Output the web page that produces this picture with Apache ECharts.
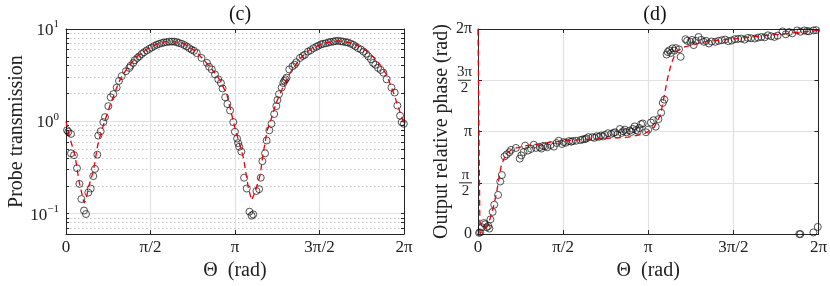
<!DOCTYPE html>
<html><head><meta charset="utf-8">
<script src="https://cdn.jsdelivr.net/npm/echarts@6/dist/echarts.min.js"></script>
<style>html,body{margin:0;padding:0;background:#fff}#c{width:830px;height:286px}</style>
</head><body><div id="c"></div>
<script>
const PI = Math.PI;
// ---- tick positions / labels ----
const thetaTicks = [0, PI/2, PI, 3*PI/2, 2*PI];
const thetaTickLabels = ['0', 'π/2', 'π', '3π/2', '2π'];
const transMajorTicks = [0.1, 1, 10];
const transMajorLabels = ['{b|10}{s|−1}', '{b|10}{s|0}', '{b|10}{s|1}'];
const transMinorTicks = [0.07,0.08,0.09,0.2,0.3,0.4,0.5,0.6,0.7,0.8,0.9,2,3,4,5,6,7,8,9];
const phaseTicks = [0, PI/2, PI, 3*PI/2, 2*PI];
const phaseTickLabels = ['0', '{n|π}\n{bar| }\n{d|2}', 'π', '{n|3π}\n{bar| }\n{d|2}', '2π'];

// ---- panel (c): probe transmission ----
const transMeasured = [
[0.02,0.80],[0.043,0.77],[0.093,0.73],[0.093,0.45],[0.149,0.43],[0.204,0.31],[0.249,0.21],[0.286,0.144],[0.335,0.108],[0.372,0.099],
[0.415,0.169],[0.459,0.187],[0.507,0.255],[0.539,0.305],[0.582,0.435],[0.60,0.70],[0.645,0.78],[0.694,0.98],[0.725,1.11],[0.787,1.46],
[0.830,1.82],[0.880,1.97],[0.942,2.32],[0.985,2.74],[1.035,3.09],[1.115,3.49],[1.177,3.79],[1.2,4.0],[1.251,4.29],[1.28,4.6],[1.326,4.86],
[1.36,5.05],[1.407,5.36],[1.45,5.6],[1.50,5.86],[1.55,6.1],[1.593,6.3],[1.64,6.55],[1.686,6.74],[1.73,6.9],[1.779,7.03],[1.82,7.15],
[1.87,7.2],[1.92,7.3],[1.965,7.3],[2.01,7.3],[2.058,7.2],[2.1,7.05],[2.15,6.92],[2.2,6.7],[2.244,6.48],[2.29,6.2],[2.337,5.96],[2.38,5.8],
[2.43,5.49],[2.52,4.86],[2.62,4.3],[2.66,3.9],[2.71,3.64],[2.77,3.22],[2.83,2.85],[2.88,2.6],[2.91,2.27],[2.96,1.82],[3.0,1.54],[3.05,1.31],
[3.11,0.98],[3.14,0.77],[3.18,0.65],[3.20,0.58],[3.22,0.53],[3.26,0.47],[3.31,0.245],[3.36,0.187],[3.41,0.105],[3.45,0.095],[3.48,0.098],
[3.54,0.176],[3.59,0.184],[3.62,0.245],[3.65,0.37],[3.70,0.45],[3.73,0.62],[3.78,0.80],[3.82,0.94],[3.87,1.2],[3.91,1.46],[3.93,1.7],
[3.96,1.97],[4.01,2.32],[4.04,2.6],[4.06,2.74],[4.08,2.85],[4.10,2.97],[4.15,3.64],[4.21,3.95],[4.25,4.1],[4.28,4.36],[4.35,4.86],[4.40,5.1],
[4.44,5.27],[4.50,5.7],[4.55,5.9],[4.60,6.2],[4.65,6.4],[4.69,6.58],[4.74,6.8],[4.78,6.92],[4.83,7.0],[4.88,7.14],[4.92,7.25],[4.97,7.3],
[5.01,7.4],[5.06,7.45],[5.11,7.35],[5.15,7.3],[5.2,7.2],[5.24,7.14],[5.29,6.95],[5.34,6.74],[5.38,6.5],[5.43,6.2],[5.48,6.0],[5.53,5.7],
[5.58,5.4],[5.62,5.06],[5.67,4.7],[5.71,4.29],[5.75,4.1],[5.80,3.79],[5.85,3.6],[5.90,3.36],[5.96,2.85],[6.05,2.32],[6.11,2.05],[6.16,1.48],
[6.21,1.15],[6.24,0.98],[6.28,0.94]
];
const transTheory = [
[0,1.0],[0.04,0.77],[0.10,0.58],[0.167,0.43],[0.242,0.224],[0.30,0.16],[0.335,0.131],[0.37,0.14],[0.415,0.19],[0.507,0.286],[0.589,0.55],
[0.663,0.80],[0.72,1.0],[0.82,1.5],[0.97,2.55],[1.035,3.05],[1.158,3.9],[1.313,5.0],[1.53,6.2],[1.747,7.1],[1.933,7.4],[2.18,7.0],[2.40,5.8],
[2.58,4.5],[2.74,3.5],[2.86,2.8],[2.99,1.95],[3.05,1.4],[3.14,0.85],[3.30,0.40],[3.39,0.19],[3.45,0.14],[3.51,0.168],[3.61,0.263],[3.66,0.43],
[3.74,0.80],[3.79,0.95],[3.91,1.6],[4.04,2.4],[4.16,3.3],[4.35,4.8],[4.53,5.95],[4.78,7.0],[5.06,7.45],[5.34,7.0],[5.56,5.95],[5.78,4.6],
[5.96,3.2],[6.08,2.1],[6.21,1.25],[6.283,0.95]
];

// ---- panel (d): output relative phase ----
const phaseMeasured = [
[0.02,0.04],[0.04,0.05],[0.07,0.21],[0.11,0.34],[0.13,0.30],[0.16,0.21],[0.19,0.25],[0.21,0.17],[0.23,0.45],[0.27,0.68],[0.30,0.90],
[0.37,1.20],[0.41,1.61],[0.44,1.81],[0.49,2.38],[0.53,2.44],[0.58,2.51],[0.61,2.58],[0.70,2.64],[0.77,2.31],[0.80,2.41],[0.84,2.51],
[0.87,2.71],[0.92,2.56],[0.98,2.61],[1.03,2.74],[1.07,2.64],[1.14,2.66],[1.17,2.62],[1.20,2.70],[1.24,2.69],[1.28,2.66],[1.34,2.73],
[1.40,2.68],[1.45,2.79],[1.49,2.86],[1.55,2.76],[1.58,2.82],[1.62,2.80],[1.68,2.85],[1.72,2.83],[1.75,2.85],[1.81,2.86],[1.89,2.88],
[1.93,2.90],[1.97,2.91],[2.00,2.93],[2.04,2.97],[2.11,2.97],[2.15,2.95],[2.19,3.00],[2.23,2.98],[2.27,3.02],[2.31,2.99],[2.34,3.04],
[2.40,3.09],[2.46,3.07],[2.50,3.10],[2.53,3.12],[2.57,3.05],[2.62,3.22],[2.65,3.10],[2.68,3.15],[2.71,3.20],[2.74,3.12],[2.80,3.17],
[2.83,3.13],[2.86,3.22],[2.89,3.30],[2.92,3.19],[2.95,3.16],[2.98,3.25],[3.01,3.37],[3.04,3.39],[3.10,3.12],[3.14,3.20],[3.19,3.42],
[3.24,3.49],[3.28,3.29],[3.33,3.52],[3.38,3.72],[3.41,4.02],[3.44,4.12],[3.48,5.50],[3.50,5.58],[3.53,5.63],[3.56,5.55],[3.59,5.69],
[3.62,5.62],[3.65,5.70],[3.71,5.66],[3.74,5.43],[3.83,5.97],[3.86,5.92],[3.92,5.89],[3.95,5.95],[3.98,5.79],[4.02,5.92],[4.07,6.04],
[4.12,5.95],[4.17,5.89],[4.21,5.92],[4.26,5.84],[4.31,5.90],[4.38,5.89],[4.44,5.92],[4.50,5.94],[4.56,5.96],[4.62,5.91],[4.68,5.93],
[4.74,5.97],[4.80,5.98],[4.86,5.99],[4.92,5.96],[4.98,6.01],[5.04,6.00],[5.11,5.99],[5.17,6.02],[5.23,6.04],[5.29,6.03],[5.35,6.09],
[5.41,6.06],[5.47,6.04],[5.53,6.08],[5.62,6.21],[5.68,6.12],[5.74,6.19],[5.80,6.15],[5.89,6.24],[5.95,6.20],[6.02,6.24],[6.07,6.22],
[6.11,6.21],[6.19,6.24],[6.24,6.25],
[5.93,0.0],[5.95,0.0],[6.19,0.05],[6.27,0.22]
];
const phaseTheory = [
[0,6.26],[0.036,0.02],[0.10,0.12],[0.16,0.25],[0.219,0.45],[0.28,0.8],[0.34,1.25],[0.43,2.11],[0.52,2.46],[0.64,2.61],[0.89,2.71],
[1.37,2.82],[1.86,2.89],[2.28,2.92],[2.77,2.97],[3.07,3.07],[3.25,3.27],[3.37,3.67],[3.43,4.18],[3.50,4.78],[3.56,5.18],[3.65,5.58],
[3.80,5.73],[4.17,5.89],[4.77,5.99],[5.38,6.09],[6.283,6.24]
];

const FONT = 'Liberation Serif';
const AX = '#262626';
const GRID = '#e2e2e2';
const MINOR = '#c4c4c4';

function nearestLabel(v, vals, labels) {
  let best = 0;
  for (let i = 1; i < vals.length; i++) if (Math.abs(vals[i]-v) < Math.abs(vals[best]-v)) best = i;
  return labels[best];
}

function thetaAxis(gridIndex, bottom) {
  const ax = {
    type: 'value', gridIndex, position: bottom ? 'bottom' : 'top', min: 0, max: 2*PI,
    axisLine: {show: true, onZero: false, lineStyle: {color: AX, width: 1}},
    axisTick: {show: true, inside: true, length: 4, customValues: thetaTicks, lineStyle: {color: AX}},
    axisLabel: {show: false},
    splitLine: {show: false}
  };
  if (bottom) {
    ax.axisLabel = {show: true, customValues: thetaTicks, margin: 5, color: '#222', fontFamily: FONT, fontSize: 17,
      formatter: v => nearestLabel(v, thetaTicks, thetaTickLabels)};
    ax.splitLine = {show: true, lineStyle: {color: GRID, width: 1.2}};
    ax.name = 'Θ  (rad)'; ax.nameLocation = 'middle'; ax.nameGap = 24;
    ax.nameTextStyle = {fontFamily: FONT, fontSize: 20, color: '#222'};
  }
  return ax;
}

const chart = echarts.init(document.getElementById('c'), null, {renderer: 'canvas'});
chart.setOption({
  animation: false,
  backgroundColor: '#fff',
  title: [
    {text: '(c)', left: 235, top: 0, textAlign: 'center', textStyle: {fontFamily: FONT, fontSize: 20, fontWeight: 'normal', color: '#111'}},
    {text: '(d)', left: 650, top: 0, textAlign: 'center', textStyle: {fontFamily: FONT, fontSize: 20, fontWeight: 'normal', color: '#111'}}
  ],
  grid: [
    {left: 66, right: 426, top: 29, bottom: 49},
    {left: 478, right: 7, top: 29, bottom: 50}
  ],
  xAxis: [thetaAxis(0, true), thetaAxis(0, false), thetaAxis(1, true), thetaAxis(1, false)],
  yAxis: [
    {type: 'log', gridIndex: 0, position: 'left', min: 0.06, max: 10, logBase: 10,
     axisLine: {show: true, onZero: false, lineStyle: {color: AX}},
     axisTick: {show: true, inside: true, length: 3, customValues: transMajorTicks.concat(transMinorTicks), lineStyle: {color: AX}},
     axisLabel: {show: true, customValues: transMajorTicks, margin: 7, color: '#222', fontFamily: FONT,
       formatter: v => nearestLabel(Math.log10(v), transMajorTicks.map(Math.log10), transMajorLabels),
       rich: {b: {fontFamily: FONT, fontSize: 17, color: '#222', verticalAlign: 'bottom', lineHeight: 20},
              s: {fontFamily: FONT, fontSize: 11, color: '#222', verticalAlign: 'top', lineHeight: 20, padding: [0,0,6,0]}}},
     splitLine: {show: true, lineStyle: {color: MINOR, type: [1.5, 2.5], width: 1}},
     name: 'Probe transmission', nameLocation: 'middle', nameGap: 35, nameRotate: 90,
     nameTextStyle: {fontFamily: FONT, fontSize: 20, color: '#222'}},
    {type: 'log', gridIndex: 0, position: 'right', min: 0.06, max: 10, logBase: 10,
     axisLine: {show: true, onZero: false, lineStyle: {color: AX}},
     axisTick: {show: true, inside: true, length: 3, customValues: transMajorTicks.concat(transMinorTicks), lineStyle: {color: AX}},
     axisLabel: {show: false}, splitLine: {show: false}},
    {type: 'log', gridIndex: 0, position: 'left', min: 0.06, max: 10, logBase: 10,
     axisLine: {show: false}, axisTick: {show: false, customValues: transMajorTicks}, axisLabel: {show: false},
     splitLine: {show: true, lineStyle: {color: GRID, width: 1.2}}},
    {type: 'value', gridIndex: 1, position: 'left', min: 0, max: 2*PI,
     axisLine: {show: true, onZero: false, lineStyle: {color: AX}},
     axisTick: {show: true, inside: true, length: 4, customValues: phaseTicks, lineStyle: {color: AX}},
     axisLabel: {show: true, customValues: phaseTicks, margin: 6, color: '#222', fontFamily: FONT, fontSize: 16,
       formatter: v => nearestLabel(v, phaseTicks, phaseTickLabels),
       rich: {n: {fontFamily: FONT, fontSize: 15, color: '#222', lineHeight: 14, align: 'center'},
              bar: {width: 13, height: 1, lineHeight: 2, backgroundColor: '#222', align: 'center', fontSize: 1},
              d: {fontFamily: FONT, fontSize: 15, color: '#222', lineHeight: 14, align: 'center'}}},
     splitLine: {show: true, lineStyle: {color: GRID, width: 1.2}},
     name: 'Output relative phase (rad)', nameLocation: 'middle', nameGap: 25, nameRotate: 90,
     nameTextStyle: {fontFamily: FONT, fontSize: 20, color: '#222'}},
    {type: 'value', gridIndex: 1, position: 'right', min: 0, max: 2*PI,
     axisLine: {show: true, onZero: false, lineStyle: {color: AX}},
     axisTick: {show: true, inside: true, length: 4, customValues: phaseTicks, lineStyle: {color: AX}},
     axisLabel: {show: false}, splitLine: {show: false}}
  ],
  series: [
    {type: 'scatter', xAxisIndex: 0, yAxisIndex: 0, data: transMeasured, symbol: 'circle', symbolSize: 7,
     itemStyle: {color: 'rgba(0,0,0,0)', borderColor: '#111', borderWidth: 0.9}, z: 2},
    {type: 'line', xAxisIndex: 0, yAxisIndex: 0, data: transTheory, showSymbol: false, smooth: false,
     lineStyle: {color: '#e8000b', width: 1.3, type: [6, 4]}, z: 3},
    {type: 'scatter', xAxisIndex: 2, yAxisIndex: 3, data: phaseMeasured, symbol: 'circle', symbolSize: 7, clip: false,
     itemStyle: {color: 'rgba(0,0,0,0)', borderColor: '#111', borderWidth: 0.9}, z: 2},
    {type: 'line', xAxisIndex: 2, yAxisIndex: 3, data: phaseTheory, showSymbol: false, smooth: false,
     lineStyle: {color: '#e8000b', width: 1.3, type: [6, 4]}, z: 3}
  ]
});
</script>
</body></html>
